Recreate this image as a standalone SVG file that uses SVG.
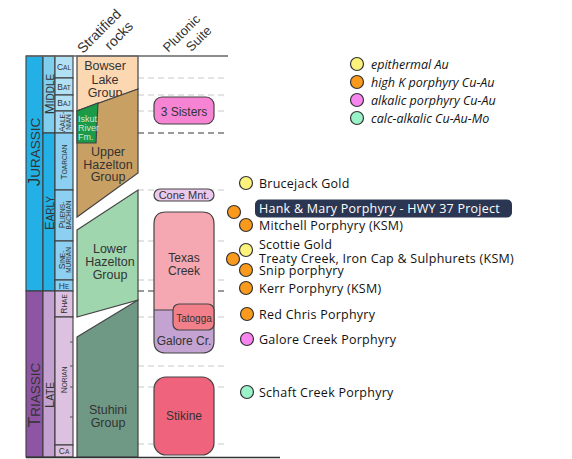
<svg xmlns="http://www.w3.org/2000/svg" width="572" height="459" viewBox="0 0 572 459">
<style>
.cell{stroke:#3d3d3d;stroke-width:1.1}
.t{font-family:"Liberation Sans",Arial,sans-serif;fill:#333}
.st{font-family:"Liberation Sans",Arial,sans-serif;fill:#333;font-size:6.5px}
.big{font-size:8.5px}
.dl{stroke:#c8c8c8;stroke-width:1;stroke-dasharray:6 4;fill:none}
.dd{stroke:#7a7a7a;stroke-width:1.7;stroke-dasharray:6 4;fill:none}
.unit{stroke:#444;stroke-width:1.2}
.dep{font-family:"Open Sans",sans-serif;font-size:12.5px;letter-spacing:0.25px;fill:#111}
.leg{font-family:"Open Sans",sans-serif;font-size:12.5px;font-style:italic;fill:#111}
.dot{stroke:#333;stroke-width:1.2}
.au{fill:#fdf37c}.hk{fill:#fa9a1c}.al{fill:#f884f0}.ca{fill:#9af3c8}
</style>
<rect width="572" height="459" fill="#fff"/>

<g id="connectors">
  <path class="dl" d="M138 78H228M138 95H228M138 111H228M138 190H228M138 241H228M138 280H228M138 317H228M138 366H228M138 387H228M138 444H228"/>
  <path class="dd" d="M138 133H228M138 291H228"/>
</g>

<g id="timescale">
  <rect id="jurassic" class="cell" x="26" y="56" width="17" height="235" fill="#22b0e6"/>
  <rect id="triassic" class="cell" x="26" y="291" width="17" height="166" fill="#8e55a4"/>
  <rect id="middle" class="cell" x="43" y="56" width="12" height="77" fill="#80ceee"/>
  <rect id="early" class="cell" x="43" y="133" width="12" height="158" fill="#22b0e6"/>
  <rect id="late" class="cell" x="43" y="291" width="12" height="166" fill="#c3a2d1"/>
  <rect id="cal" class="cell" x="55" y="56" width="18" height="22" fill="#b2e0f5"/>
  <rect id="bat" class="cell" x="55" y="78" width="18" height="17" fill="#b2e0f5"/>
  <rect id="baj" class="cell" x="55" y="95" width="18" height="16" fill="#b2e0f5"/>
  <rect id="aalenian" class="cell" x="55" y="111" width="18" height="22" fill="#a6dbf3"/>
  <rect id="toarcian" class="cell" x="55" y="133" width="18" height="57" fill="#8ccff0"/>
  <rect id="pliensbachian" class="cell" x="55" y="190" width="18" height="51" fill="#8ccff0"/>
  <rect id="sinemurian" class="cell" x="55" y="241" width="18" height="39" fill="#8ccff0"/>
  <rect id="hettangian" class="cell" x="55" y="280" width="18" height="11" fill="#8ccff0"/>
  <rect id="rhaetian" class="cell" x="55" y="291" width="18" height="26" fill="#dcc2e0"/>
  <rect id="norian" class="cell" x="55" y="317" width="18" height="128" fill="#dcc2e0"/>
  <rect id="carnian" class="cell" x="55" y="445" width="18" height="12" fill="#dcc2e0"/>
  <path d="M70 342H73M70 366H73M70 387H73M70 417H73" stroke="#555" stroke-width="1"/>

  <text class="t" transform="translate(40,152) rotate(-90)" text-anchor="middle" font-size="13.5"><tspan font-size="17">J</tspan>URASSIC</text>
  <text class="t" transform="translate(40,395) rotate(-90)" text-anchor="middle" font-size="13.5"><tspan font-size="17">T</tspan>RIASSIC</text>
  <text class="t" transform="translate(53.5,94) rotate(-90)" text-anchor="middle" font-size="10"><tspan font-size="13">M</tspan>IDDLE</text>
  <text class="t" transform="translate(53.5,213) rotate(-90)" text-anchor="middle" font-size="10"><tspan font-size="13">E</tspan>ARLY</text>
  <text class="t" transform="translate(53.5,395) rotate(-90)" text-anchor="middle" font-size="10"><tspan font-size="13">L</tspan>ATE</text>

  <text class="st" x="64" y="70" text-anchor="middle"><tspan class="big">C</tspan>AL</text>
  <text class="st" x="64" y="89.5" text-anchor="middle"><tspan class="big">B</tspan>AT</text>
  <text class="st" x="64" y="106" text-anchor="middle"><tspan class="big">B</tspan>AJ</text>
  <text class="st" x="64" y="288.5" text-anchor="middle"><tspan class="big">H</tspan>E</text>
  <text class="st" x="64" y="454" text-anchor="middle"><tspan class="big">C</tspan>A</text>
  <text class="st" transform="translate(0,122) rotate(-90)" text-anchor="middle"><tspan x="0" y="64.5"><tspan class="big">A</tspan>ALE-</tspan><tspan x="0" y="71">NIAN</tspan></text>
  <text class="st" transform="translate(67,162) rotate(-90)" text-anchor="middle"><tspan class="big">T</tspan>OARCIAN</text>
  <text class="st" transform="translate(0,215) rotate(-90)" text-anchor="middle"><tspan x="0" y="64.5"><tspan class="big">P</tspan>LIENS-</tspan><tspan x="0" y="71">BACHIAN</tspan></text>
  <text class="st" transform="translate(0,260) rotate(-90)" text-anchor="middle"><tspan x="0" y="64.5"><tspan class="big">S</tspan>INE-</tspan><tspan x="0" y="71">MURIAN</tspan></text>
  <text class="st" transform="translate(67,304) rotate(-90)" text-anchor="middle"><tspan class="big">R</tspan>HAE</text>
  <text class="st" transform="translate(67,380) rotate(-90)" text-anchor="middle"><tspan class="big">N</tspan>ORIAN</text>
</g>

<g id="stratified">
  <g id="bowser-lake">
    <polygon class="unit" points="77,56 138,56 138,89 77,111" fill="#fcd8b2"/>
    <text class="t" font-size="12.5" text-anchor="middle"><tspan x="105" y="70">Bowser</tspan><tspan x="105" y="83.5">Lake</tspan><tspan x="105" y="96.5">Group</tspan></text>
  </g>
  <g id="upper-hazelton">
    <polygon class="unit" points="77,111 138,89 138,173 77,217" fill="#c9a064"/>
    <text class="t" font-size="12.5" text-anchor="middle"><tspan x="108" y="156">Upper</tspan><tspan x="108" y="168.5">Hazelton</tspan><tspan x="108" y="181">Group</tspan></text>
  </g>
  <g id="iskut-river">
    <polygon class="unit" points="77,111 98,103 96,143 77,143" fill="#1b9a48"/>
    <text class="t" font-size="9" style="fill:#d6e8d6"><tspan x="78" y="122">Iskut</tspan><tspan x="78" y="131">River</tspan><tspan x="78" y="140">Fm.</tspan></text>
  </g>
  <g id="lower-hazelton">
    <polygon class="unit" points="77,230 138,190 138,300 77,317" fill="#9fd6ae"/>
    <text class="t" font-size="12.5" text-anchor="middle"><tspan x="110" y="253">Lower</tspan><tspan x="110" y="266">Hazelton</tspan><tspan x="110" y="278.5">Group</tspan></text>
  </g>
  <g id="stuhini">
    <polygon class="unit" points="77,337 138,300 138,457 77,457" fill="#6f9985"/>
    <text class="t" font-size="12.5" text-anchor="middle"><tspan x="108" y="414">Stuhini</tspan><tspan x="108" y="427">Group</tspan></text>
  </g>
</g>

<g id="frame">
  <path d="M26 56H228" stroke="#666" stroke-width="1.3"/>
  <path d="M26 457.5H280" stroke="#333" stroke-width="1.5"/>
  <text class="t" font-size="14" text-anchor="end" transform="translate(122,15) rotate(-45)"><tspan x="0" y="0">Stratified</tspan><tspan x="0" y="17">rocks</tspan></text>
  <text class="t" font-size="13" text-anchor="end" transform="translate(201,20) rotate(-45)"><tspan x="0" y="0">Plutonic</tspan><tspan x="0" y="16">Suite</tspan></text>
</g>

<g id="plutonic">
  <g id="three-sisters">
    <rect class="unit" x="154" y="97" width="60" height="27" rx="8" fill="#f783d3"/>
    <text class="t" x="184" y="115.5" font-size="12" text-anchor="middle">3 Sisters</text>
  </g>
  <g id="cone-mnt">
    <rect class="unit" x="154" y="189" width="60" height="12" rx="6" fill="#ecc9ec"/>
    <text class="t" x="184" y="199" font-size="11" text-anchor="middle">Cone Mnt.</text>
  </g>
  <g id="texas-creek-galore">
    <path d="M166 212H202Q214 212 214 224V341Q214 353 202 353H166Q154 353 154 341V224Q154 212 166 212Z" fill="#c4a2d1"/>
    <path d="M166 212H202Q214 212 214 224V310H154V224Q154 212 166 212Z" fill="#f5a8b1"/>
    <path d="M154 310H214" stroke="#444" stroke-width="1.2"/>
    <path class="unit" d="M154 224Q154 212 166 212H202Q214 212 214 224V341Q214 353 202 353H166Q154 353 154 341Z" fill="none"/>
    <text class="t" font-size="12" text-anchor="middle"><tspan x="184" y="262">Texas</tspan><tspan x="184" y="275">Creek</tspan></text>
    <text class="t" x="184" y="345" font-size="12" text-anchor="middle">Galore Cr.</text>
  </g>
  <g id="tatogga">
    <rect class="unit" x="173" y="304" width="41" height="26" rx="6" fill="#f2808a"/>
    <text class="t" x="194" y="321.5" font-size="10" text-anchor="middle">Tatogga</text>
  </g>
  <g id="stikine">
    <rect class="unit" x="154" y="377" width="60" height="78" rx="12" fill="#f0637c"/>
    <text class="t" x="184" y="420" font-size="12" text-anchor="middle">Stikine</text>
  </g>
</g>

<g id="legend">
  <circle class="dot au" cx="357" cy="64" r="6.5"/><text class="leg" x="371" y="68.5">epithermal Au</text>
  <circle class="dot hk" cx="357" cy="82" r="6.5"/><text class="leg" x="371" y="86.5">high K porphyry Cu-Au</text>
  <circle class="dot al" cx="357" cy="100" r="6.5"/><text class="leg" x="371" y="104.5">alkalic porphyry Cu-Au</text>
  <circle class="dot ca" cx="357" cy="118" r="6.5"/><text class="leg" x="371" y="122.5">calc-alkalic Cu-Au-Mo</text>
</g>

<g id="deposits">
  <g id="brucejack"><circle class="dot au" cx="246" cy="183" r="6.5"/><text class="dep" x="259" y="187.5">Brucejack Gold</text></g>
  <g id="hank-mary"><circle class="dot hk" cx="234" cy="212" r="6.5"/><rect x="255" y="199.5" width="257" height="18" rx="5" fill="#2b3652"/><text class="dep" x="259" y="213" style="fill:#fff">Hank &amp; Mary Porphyry - HWY 37 Project</text></g>
  <g id="mitchell"><circle class="dot hk" cx="246" cy="225" r="6.5"/><text class="dep" x="259" y="230">Mitchell Porphyry (KSM)</text></g>
  <g id="scottie"><circle class="dot au" cx="246" cy="250" r="6.5"/><text class="dep" x="259" y="249">Scottie Gold</text></g>
  <g id="treaty"><circle class="dot hk" cx="233" cy="259" r="6.5"/><text class="dep" x="259" y="263">Treaty Creek, Iron Cap &amp; Sulphurets (KSM)</text></g>
  <g id="snip"><circle class="dot hk" cx="246" cy="270" r="6.5"/><text class="dep" x="259" y="275">Snip porphyry</text></g>
  <g id="kerr"><circle class="dot hk" cx="246" cy="288" r="6.5"/><text class="dep" x="259" y="292.5">Kerr Porphyry (KSM)</text></g>
  <g id="red-chris"><circle class="dot hk" cx="247" cy="314" r="6.5"/><text class="dep" x="259" y="318.5">Red Chris Porphyry</text></g>
  <g id="galore-creek"><circle class="dot al" cx="247" cy="339" r="6.5"/><text class="dep" x="259" y="343.5">Galore Creek Porphyry</text></g>
  <g id="schaft-creek"><circle class="dot ca" cx="247" cy="392" r="6.5"/><text class="dep" x="259" y="396.5">Schaft Creek Porphyry</text></g>
</g>
</svg>
